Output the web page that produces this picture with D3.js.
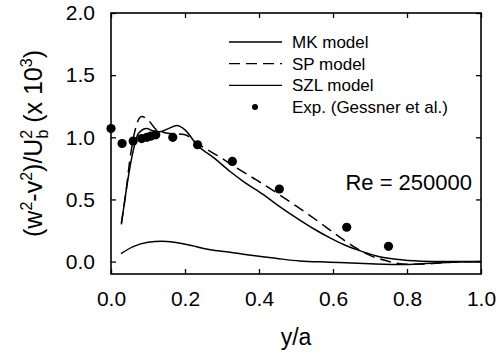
<!DOCTYPE html>
<meta charset="utf-8">
<style>
    body { margin: 0; background: #fff; }
    svg { display: block; font-family: "Liberation Sans", Arial, sans-serif; }
    .axis path { display: none; }
    .axis line { stroke: #000; stroke-width: 1.3px; }
    .axis text { font-size: 21px; fill: #000; font-family: "Liberation Sans", Arial, sans-serif; }
</style>
<script src="https://cdn.jsdelivr.net/npm/d3@7"></script>
<svg width="499" height="358"></svg>
<script>
    // valores
    var xTicks = [0.0, 0.2, 0.4, 0.6, 0.8, 1.0];
    var yTicks = [0.0, 0.5, 1.0, 1.5, 2.0];

    var mkX = [0.028, 0.04, 0.055, 0.074, 0.096, 0.115, 0.132, 0.155, 0.178, 0.2, 0.232, 0.28, 0.322, 0.36, 0.412, 0.45, 0.502, 0.55, 0.592, 0.63, 0.664, 0.718, 0.77, 0.84, 0.9, 1.0];
    var mkY = [0.30, 0.55, 0.82, 1.03, 1.07, 1.05, 1.045, 1.07, 1.095, 1.06, 0.94, 0.83, 0.725, 0.64, 0.538, 0.455, 0.35, 0.26, 0.19, 0.135, 0.096, 0.045, 0.018, 0.003, 0.0, 0.0];

    var spX = [0.028, 0.04, 0.051, 0.069, 0.083, 0.1, 0.123, 0.15, 0.2, 0.232, 0.3, 0.34, 0.394, 0.448, 0.5, 0.538, 0.58, 0.619, 0.664, 0.7, 0.74, 0.8, 0.85, 0.9, 1.0];
    var spY = [0.31, 0.55, 0.82, 1.10, 1.167, 1.14, 1.06, 1.035, 1.02, 0.953, 0.83, 0.752, 0.655, 0.552, 0.448, 0.37, 0.28, 0.195, 0.105, 0.05, 0.01, -0.022, -0.02, -0.008, 0.0];

    var szlX = [0.027, 0.06, 0.1, 0.137, 0.17, 0.205, 0.268, 0.322, 0.358, 0.448, 0.51, 0.59, 0.7, 0.79, 0.916, 1.0];
    var szlY = [0.064, 0.12, 0.155, 0.163, 0.155, 0.137, 0.095, 0.075, 0.058, 0.025, 0.005, -0.005, -0.018, -0.024, -0.005, 0.0];

    var expX = [0.0, 0.03, 0.06, 0.083, 0.097, 0.108, 0.121, 0.167, 0.234, 0.328, 0.455, 0.637, 0.75];
    var expY = [1.07, 0.95, 0.97, 0.99, 1.0, 1.01, 1.02, 1.0, 0.94, 0.806, 0.584, 0.276, 0.123];

    var legenda = ["MK model", "SP model", "SZL model", "Exp. (Gessner et al.)"];

    var svg = d3.select("svg"),
        margem = { top: 13, right: 18, bottom: 84, left: 111 },
        width = +svg.attr("width") - margem.left - margem.right,
        height = +svg.attr("height") - margem.top - margem.bottom;

    var x = d3.scaleLinear().domain([0, 1]).range([0, width]);
    var y = d3.scaleLinear().domain([-0.1, 2.0]).range([height, 0]);

    var g = svg.append("g").attr("transform", "translate(" + margem.left + "," + margem.top + ")");

    function pares(xs, ys) {
        return xs.map(function (v, i) { return [v, ys[i]]; });
    }

    var linha = d3.line()
        .x(function (d) { return x(d[0]); })
        .y(function (d) { return y(d[1]); })
        .curve(d3.curveMonotoneX);

    // eixos com ticks para dentro
    g.append("g").attr("class", "axis")
        .attr("transform", "translate(0," + height + ")")
        .call(d3.axisBottom(x).tickValues(xTicks).tickSizeInner(-5).tickSizeOuter(0).tickPadding(17).tickFormat(d3.format(".1f")));
    g.append("g").attr("class", "axis")
        .call(d3.axisLeft(y).tickValues(yTicks).tickSizeInner(-5).tickSizeOuter(0).tickPadding(16).tickFormat(d3.format(".1f")));
    g.append("g").attr("class", "axis")
        .call(d3.axisTop(x).tickValues(xTicks).tickSizeInner(-5).tickSizeOuter(0).tickFormat(""));
    g.append("g").attr("class", "axis")
        .attr("transform", "translate(" + width + ",0)")
        .call(d3.axisRight(y).tickValues(yTicks).tickSizeInner(-5).tickSizeOuter(0).tickFormat(""));

    g.append("rect")
        .attr("width", width).attr("height", height)
        .attr("fill", "none").attr("stroke", "#000").attr("stroke-width", 1.6);

    // curvas
    g.append("path").datum(pares(szlX, szlY))
        .attr("d", linha).attr("fill", "none").attr("stroke", "#000").attr("stroke-width", 1.5);
    g.append("path").datum(pares(mkX, mkY))
        .attr("d", linha).attr("fill", "none").attr("stroke", "#000").attr("stroke-width", 1.5);
    g.append("path").datum(pares(spX, spY))
        .attr("d", linha).attr("fill", "none").attr("stroke", "#000").attr("stroke-width", 1.5)
        .attr("stroke-dasharray", "11,6");

    g.selectAll(".ponto")
        .data(pares(expX, expY))
        .enter().append("circle")
        .attr("class", "ponto")
        .attr("cx", function (d) { return x(d[0]); })
        .attr("cy", function (d) { return y(d[1]); })
        .attr("r", 4.6)
        .attr("fill", "#000");

    // legenda
    var leg = svg.append("g").attr("transform", "translate(229,42)");
    var item = leg.selectAll("g")
        .data(legenda)
        .enter().append("g")
        .attr("transform", function (d, i) { return "translate(0," + (i * 21.7) + ")"; });
    item.filter(function (d, i) { return i < 3; })
        .append("line")
        .attr("x1", 0).attr("x2", 53)
        .attr("stroke", "#000").attr("stroke-width", 1.3)
        .attr("stroke-dasharray", function (d, i) { return i == 1 ? "11,6" : null; });
    item.filter(function (d, i) { return i == 3; })
        .append("circle")
        .attr("cx", 26).attr("r", 3).attr("fill", "#000");
    item.append("text")
        .attr("x", 63).attr("dy", "0.35em")
        .style("font-size", "17px")
        .text(function (d) { return d; });

    svg.append("text")
        .attr("x", 472).attr("y", 190)
        .attr("text-anchor", "end")
        .style("font-size", "22px")
        .text("Re = 250000");

    // títulos dos eixos
    svg.append("text")
        .attr("x", margem.left + width / 2).attr("y", 345)
        .attr("text-anchor", "middle")
        .style("font-size", "23px")
        .text("y/a");

    var rot = svg.append("text")
        .attr("transform", "translate(42," + (margem.top + height / 2) + ") rotate(-90)")
        .attr("text-anchor", "middle")
        .style("font-size", "25px");
    var partes = [
        ["(w", 0, 0, 25], ["2", -10, 0, 16], ["-v", 10, 0, 25], ["2", -10, 0, 16], [")/U", 10, 0, 25],
        ["b", 6, 0, 16], ["2", -16, -9, 16], [" (x 10", 10, 0, 25], ["3", -10, 0, 16], [")", 10, 0, 25]
    ];
    partes.forEach(function (p) {
        rot.append("tspan")
            .attr("dy", p[1]).attr("dx", p[2])
            .style("font-size", p[3] + "px")
            .text(p[0]);
    });
</script>
